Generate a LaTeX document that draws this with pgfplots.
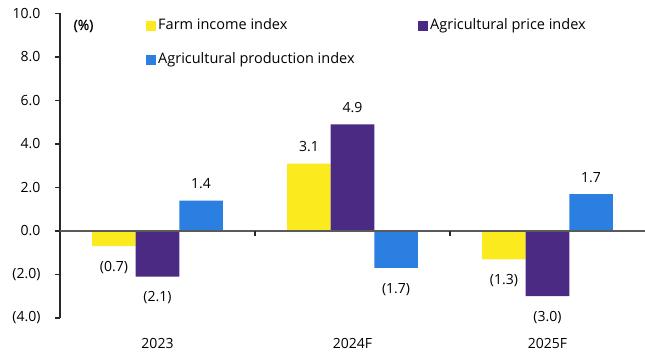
\documentclass[border=0pt]{standalone}
\usepackage{fontspec}
\setmainfont{Open Sans}
\usepackage{pgfplots}
\pgfplotsset{compat=1.18}
\definecolor{cyellow}{RGB}{250,234,30}
\definecolor{cpurple}{RGB}{75,42,132}
\definecolor{cblue}{RGB}{43,127,224}
\definecolor{zgray}{RGB}{90,90,90}
\definecolor{agray}{RGB}{40,40,40}
\begin{document}
\begin{tikzpicture}[font=\fontsize{14}{16}\selectfont]
\begin{axis}[
  anchor=south west, at={(0pt,0pt)},
  scale only axis, width=585pt, height=304.5pt,
  ymin=-4, ymax=10, xmin=-0.5, xmax=2.5,
  ybar=0pt, bar width=43.6pt,
  axis y line*=left, axis x line*=bottom,
  x axis line style={draw=none},
  y axis line style={agray, line width=1.2pt},
  xtick={0,1,2}, xticklabels={2023,2024F,2025F},
  major x tick style={draw=none},
  xticklabel style={yshift=-12pt, font=\fontsize{14}{16}\selectfont},
  ytick={-4,-2,0,2,4,6,8,10},
  yticklabels={(4.0),(2.0),0.0,2.0,4.0,6.0,8.0,10.0},
  yticklabel style={xshift=-11pt, font=\fontsize{14}{16}\selectfont},
  major y tick style={agray, line width=1.2pt},
  tick align=outside, major tick length=5pt,
  /pgf/number format/assume math mode=true,
  point meta=explicit symbolic,
  nodes near coords={\pgfplotspointmeta},
  visualization depends on={y \as \rawy},
  every node near coord/.append style={font=\fontsize{14}{16}\selectfont, text=black,
     yshift={ifthenelse(\rawy<0,-31,8)}},
  legend style={at={(axis description cs:0.1419,0.99)}, anchor=north west,
     draw=none, fill=none, legend columns=2,
     font=\fontsize{14.5}{17}\selectfont,
     nodes={inner xsep=2pt, inner ysep=0pt, text height=11pt, text depth=3pt},
     /tikz/row sep=20pt},
  legend cell align=left,
  legend image code/.code={\fill[#1, draw=none] (0pt,-5pt) rectangle (10pt,5pt);},
]
\addplot[fill=cyellow, draw=none] coordinates {(0,-0.7) [(0.7)] (1,3.1) [3.1] (2,-1.3) [(1.3)]};
\addlegendentry{\makebox[258pt][l]{Farm income index}}
\addplot[fill=cpurple, draw=none] coordinates {(0,-2.1) [(2.1)] (1,4.9) [4.9] (2,-3.0) [(3.0)]};
\addlegendentry{Agricultural price index}
\addplot[fill=cblue, draw=none] coordinates {(0,1.4) [1.4] (1,-1.7) [(1.7)] (2,1.7) [1.7]};
\addlegendentry{\makebox[258pt][l]{Agricultural production index}}
\draw[zgray, line width=1.3pt] (axis cs:-0.5,0) -- (axis cs:2.5,0);
\draw[agray, line width=1.2pt] (axis cs:0.5,0) -- ++(0pt,-5pt);
\draw[agray, line width=1.2pt] (axis cs:1.5,0) -- ++(0pt,-5pt);
\node[font=\fontsize{14}{16}\selectfont\addfontfeature{FakeBold=1}] at (axis description cs:0.0402,0.959) {(\%)};
\end{axis}
\pgfresetboundingbox
\useasboundingbox (-60pt,-37pt) rectangle (585pt,318pt);
\end{tikzpicture}
\end{document}
